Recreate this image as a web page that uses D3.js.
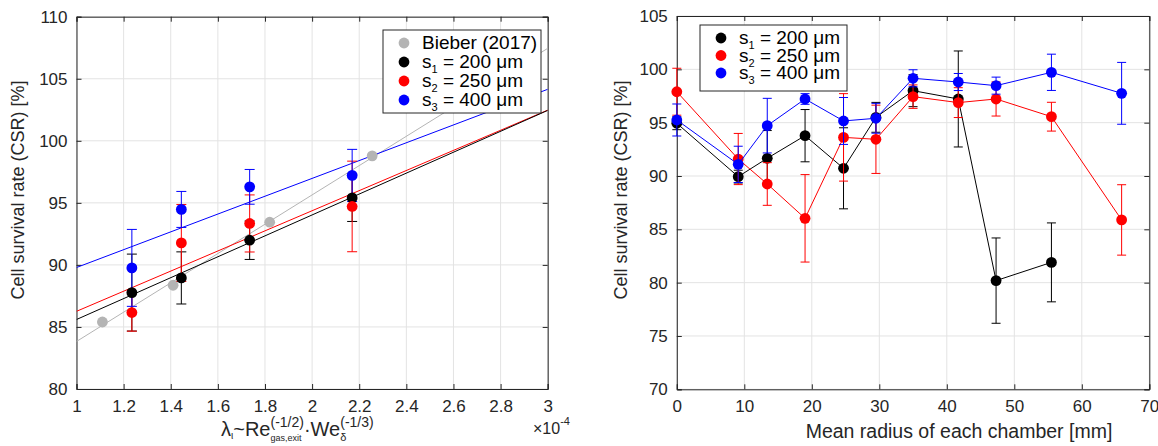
<!DOCTYPE html>
<html>
<head>
<meta charset="utf-8">
<script src="https://cdn.jsdelivr.net/npm/d3@7/dist/d3.min.js"></script>
<style>
    body { margin: 0; background: #fff; }
    svg { font-family: "Liberation Sans", Arial, Helvetica, sans-serif; }
</style>
</head>
<body>
<svg id="chart" width="1158" height="446"></svg>
<script>
// ---- left panel: CSR vs lambda ----
var lambdaTicks = [1, 1.2, 1.4, 1.6, 1.8, 2, 2.2, 2.4, 2.6, 2.8, 3];
var csrTicksLeft = [80, 85, 90, 95, 100, 105, 110];

var bieberX = [1.11, 1.41, 1.82, 2.255];
var bieberY = [85.4, 88.36, 93.44, 98.79];

var lambdaX = [1.235, 1.445, 1.735, 2.17];
var s1Csr = [87.77, 88.95, 91.99, 95.4];
var s1Err = [3.1, 2.1, 1.55, 1.9];
var s2Csr = [86.16, 91.77, 93.34, 94.71];
var s2Err = [1.5, 3.1, 2.3, 3.65];
var s3Csr = [89.76, 94.47, 96.29, 97.21];
var s3Err = [3.1, 1.45, 1.4, 2.1];

// fit lines, value at lambda = 1 and at lambda = 3
var fitX = [1, 3];
var bieberFit = [83.83, 107.45];
var s1Fit = [85.6, 102.45];
var s2Fit = [86.26, 102.47];
var s3Fit = [89.79, 104.15];

// ---- right panel: CSR vs chamber radius ----
var radiusTicks = [0, 10, 20, 30, 40, 50, 60, 70];
var csrTicksRight = [70, 75, 80, 85, 90, 95, 100, 105];
var radius = [0, 9.1, 13.4, 19, 24.7, 29.5, 35, 41.7, 47.3, 55.5, 65.9];
var r1Csr = [94.94, 89.94, 91.66, 93.78, 90.72, 95.5, 98.0, 97.22, 80.19, 81.9, null];
var r1Err = [0.6, 0.6, 2.6, 2.45, 3.8, 1.4, 1.5, 4.5, 4.0, 3.7, null];
var r2Csr = [97.9, 91.59, 89.25, 86.03, 93.62, 93.44, 97.44, 96.88, 97.22, 95.56, 85.88];
var r2Err = [2.2, 2.4, 2.0, 4.1, 4.1, 3.2, 1.1, 1.4, 1.6, 1.35, 3.3];
var r3Csr = [95.25, 91.09, 94.72, 97.22, 95.16, 95.41, 99.16, 98.81, 98.47, 99.72, 97.75];
var r3Err = [1.5, 1.7, 2.56, 0.5, 2.2, 1.4, 0.8, 0.8, 0.8, 1.7, 2.9];

var colBieber = "#b4b4b4", col1 = "#000000", col2 = "#ff0000", col3 = "#0000ff";
var axisCol = "#262626", gridCol = "#e3e3e3";
var tickFont = "17px", labelFont = "18px", legendFont = "19px";

var svg = d3.select("#chart");

// draws frame, grid and ticks of one axes box
function drawFrame(x, y, xTicks, yTicks, xFmt) {
    var g = svg.append("g");
    var x0 = x.range()[0], x1 = x.range()[1], y0 = y.range()[0], y1 = y.range()[1];

    g.selectAll(".gx").data(xTicks).enter().append("line")
        .attr("x1", d => x(d)).attr("x2", d => x(d))
        .attr("y1", y0).attr("y2", y1)
        .attr("stroke", gridCol);
    g.selectAll(".gy").data(yTicks).enter().append("line")
        .attr("x1", x0).attr("x2", x1)
        .attr("y1", d => y(d)).attr("y2", d => y(d))
        .attr("stroke", gridCol);

    // bottom / left with labels, top / right only ticks
    var ax = g.append("g").attr("transform", "translate(0," + y0 + ")")
        .call(d3.axisBottom(x).tickValues(xTicks).tickSize(-5).tickPadding(11).tickFormat(xFmt));
    var ay = g.append("g").attr("transform", "translate(" + x0 + ",0)")
        .call(d3.axisLeft(y).tickValues(yTicks).tickSize(-5).tickPadding(9));
    var at = g.append("g").attr("transform", "translate(0," + y1 + ")")
        .call(d3.axisTop(x).tickValues(xTicks).tickSize(-5).tickFormat(""));
    var ar = g.append("g").attr("transform", "translate(" + x1 + ",0)")
        .call(d3.axisRight(y).tickValues(yTicks).tickSize(-5).tickFormat(""));

    [ax, ay, at, ar].forEach(function (a) {
        a.select(".domain").attr("stroke", axisCol);
        a.selectAll(".tick line").attr("stroke", axisCol);
        a.selectAll(".tick text").attr("fill", axisCol).style("font-size", tickFont);
        a.attr("font-family", null);
    });
    return g;
}

function drawErrors(g, xs, ys, es, x, y, color, cap) {
    var d = xs.map((v, i) => ({x: v, y: ys[i], e: es[i]})).filter(p => p.y != null);
    var eg = g.append("g").attr("stroke", color).attr("stroke-width", 1);
    eg.selectAll(".v").data(d).enter().append("line")
        .attr("x1", p => x(p.x)).attr("x2", p => x(p.x))
        .attr("y1", p => y(p.y - p.e)).attr("y2", p => y(p.y + p.e));
    eg.selectAll(".t").data(d).enter().append("line")
        .attr("x1", p => x(p.x) - cap).attr("x2", p => x(p.x) + cap)
        .attr("y1", p => y(p.y + p.e)).attr("y2", p => y(p.y + p.e));
    eg.selectAll(".b").data(d).enter().append("line")
        .attr("x1", p => x(p.x) - cap).attr("x2", p => x(p.x) + cap)
        .attr("y1", p => y(p.y - p.e)).attr("y2", p => y(p.y - p.e));
}

function drawDots(g, xs, ys, x, y, color) {
    var d = xs.map((v, i) => ({x: v, y: ys[i]})).filter(p => p.y != null);
    g.selectAll(null).data(d).enter().append("circle")
        .attr("cx", p => x(p.x)).attr("cy", p => y(p.y))
        .attr("r", 5.4).attr("fill", color);
}

function drawLegend(x0, y0, w, h, rowH, entries) {
    var g = svg.append("g");
    g.append("rect").attr("x", x0).attr("y", y0).attr("width", w).attr("height", h)
        .attr("fill", "#fff").attr("stroke", axisCol).attr("stroke-width", 1);
    entries.forEach(function (e, i) {
        var cy = y0 + 13 + i * rowH;
        g.append("circle").attr("cx", x0 + 21).attr("cy", cy).attr("r", 5.4).attr("fill", e.color);
        var t = g.append("text").attr("x", x0 + 39).attr("y", cy + 6)
            .style("font-size", legendFont).attr("fill", "#000");
        if (e.sub) {
            t.append("tspan").text("s");
            t.append("tspan").attr("dy", 5).style("font-size", "11px").text(e.sub);
            t.append("tspan").attr("dy", -5).text(" = " + e.label);
        } else {
            t.text(e.label);
        }
    });
}

// text with stacked sub/superscripts, pieces laid out left to right
function richLabel(x, y, pieces) {
    var g = svg.append("g").attr("fill", axisCol);
    var cx = x;
    pieces.forEach(function (p) {
        var w = 0;
        p.forEach(function (q) {
            var t = g.append("text").attr("x", cx).attr("y", y + (q.dy || 0))
                .style("font-size", q.size + "px").text(q.t);
            w = Math.max(w, t.node().getComputedTextLength());
        });
        cx += w;
    });
    return g;
}

// ---------------- left panel ----------------
var xL = d3.scaleLinear().domain([1, 3]).range([76.5, 547.7]);
var yL = d3.scaleLinear().domain([80, 110]).range([389, 16.7]);
drawFrame(xL, yL, lambdaTicks, csrTicksLeft, d3.format("~g"));

var clipL = svg.append("clipPath").attr("id", "clipL");
clipL.append("rect").attr("x", 76.5).attr("y", 16.7).attr("width", 471.2).attr("height", 372.3);
var fits = svg.append("g").attr("clip-path", "url(#clipL)");
var pL = svg.append("g");
var line = d3.line().x(d => xL(d[0])).y(d => yL(d[1]));
[[bieberFit, colBieber], [s3Fit, col3], [s2Fit, col2], [s1Fit, col1]].forEach(function (f) {
    fits.append("path").datum(fitX.map((v, i) => [v, f[0][i]]))
        .attr("d", line).attr("fill", "none").attr("stroke", f[1]).attr("stroke-width", 1);
});
drawDots(pL, bieberX, bieberY, xL, yL, colBieber);
drawErrors(pL, lambdaX, s1Csr, s1Err, xL, yL, col1, 5);
drawErrors(pL, lambdaX, s2Csr, s2Err, xL, yL, col2, 5);
drawErrors(pL, lambdaX, s3Csr, s3Err, xL, yL, col3, 5);
drawDots(pL, lambdaX, s1Csr, xL, yL, col1);
drawDots(pL, lambdaX, s2Csr, xL, yL, col2);
drawDots(pL, lambdaX, s3Csr, xL, yL, col3);

svg.append("text").attr("transform", "translate(24,190) rotate(-90)")
    .attr("text-anchor", "middle").style("font-size", labelFont).attr("fill", axisCol)
    .text("Cell survival rate (CSR) [%]");

richLabel(221, 436, [
    [{t: "λ", size: 20}],
    [{t: "ι", size: 10, dy: 3}],
    [{t: "~Re", size: 20}],
    [{t: "(-1/2)", size: 14, dy: -9}, {t: "gas,exit", size: 9, dy: 5}],
    [{t: "·We", size: 20}],
    [{t: "(-1/3)", size: 14, dy: -9}, {t: "δ", size: 11, dy: 5}]
]);

richLabel(533, 434, [
    [{t: "×10", size: 16}],
    [{t: "-4", size: 11, dy: -9}]
]);

drawLegend(383, 30, 158, 83, 19, [
    {color: colBieber, label: "Bieber (2017)"},
    {color: col1, sub: "1", label: "200 μm"},
    {color: col2, sub: "2", label: "250 μm"},
    {color: col3, sub: "3", label: "400 μm"}
]);

// ---------------- right panel ----------------
var xR = d3.scaleLinear().domain([0, 70]).range([676.8, 1149.3]);
var yR = d3.scaleLinear().domain([70, 105]).range([389.3, 16]);
drawFrame(xR, yR, radiusTicks, csrTicksRight, d3.format("d"));

var pR = svg.append("g");
var lineR = d3.line().defined(d => d[1] != null).x(d => xR(d[0])).y(d => yR(d[1]));
[[r1Csr, r1Err, col1], [r2Csr, r2Err, col2], [r3Csr, r3Err, col3]].forEach(function (s) {
    pR.append("path").datum(radius.map((v, i) => [v, s[0][i]]))
        .attr("d", lineR).attr("fill", "none").attr("stroke", s[2]).attr("stroke-width", 1);
    drawErrors(pR, radius, s[0], s[1], xR, yR, s[2], 4.5);
    drawDots(pR, radius, s[0], xR, yR, s[2]);
});

svg.append("text").attr("transform", "translate(627,190) rotate(-90)")
    .attr("text-anchor", "middle").style("font-size", labelFont).attr("fill", axisCol)
    .text("Cell survival rate (CSR) [%]");
svg.append("text").attr("x", 959).attr("y", 438).attr("text-anchor", "middle")
    .style("font-size", "19.5px").attr("fill", axisCol)
    .text("Mean radius of each chamber [mm]");

drawLegend(700, 25, 147, 66, 17.5, [
    {color: col1, sub: "1", label: "200 μm"},
    {color: col2, sub: "2", label: "250 μm"},
    {color: col3, sub: "3", label: "400 μm"}
]);
</script>
</body>
</html>
